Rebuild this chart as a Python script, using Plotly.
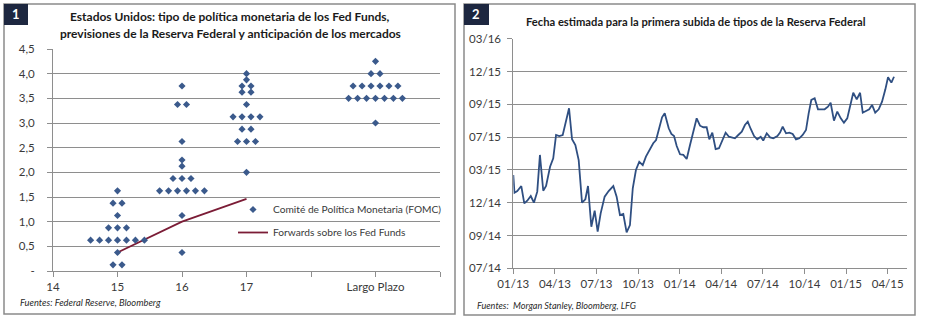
import plotly.graph_objects as go
from collections import Counter

W, H = 929, 321
FONT = "Lato"
NAVY = "#3b5a8c"
LINE_BLUE = "#2f4f82"
MAROON = "#7b1c36"
GRID = "#8e8e8e"
TXT = "#3a3a3a"

# ---------------- Panel 1: FOMC projections vs. market forwards ----------------
fomc_2015 = [1.625, 1.375, 1.375, 1.125, 0.875, 0.875, 0.875,
             0.625, 0.625, 0.625, 0.625, 0.625, 0.625, 0.625,
             0.375, 0.125, 0.125]
fomc_2016 = [3.75, 3.375, 3.375, 2.625, 2.25, 2.125, 1.875, 1.875, 1.875,
             1.625, 1.625, 1.625, 1.625, 1.625, 1.625, 1.125, 0.375]
fomc_2017 = [4.0, 3.875, 3.75, 3.75, 3.625, 3.625, 3.375,
             3.125, 3.125, 3.125, 3.125, 2.875, 2.875,
             2.625, 2.625, 2.625, 2.0]
fomc_long = [4.25, 4.0, 4.0, 3.75, 3.75, 3.75, 3.75, 3.75, 3.75,
             3.5, 3.5, 3.5, 3.5, 3.5, 3.5, 3.5, 3.0]
fomc_positions = [15, 16, 17, 19]

fwd_x = [15, 16, 17]
fwd_y = [0.375, 1.0, 1.46]

x1_tickvals = [14, 15, 16, 17, 18, 19, 20]
x1_ticktext = ["14", "15", "16", "17", "", "Largo Plazo", ""]
y1_tickvals = [0, 0.5, 1.0, 1.5, 2.0, 2.5, 3.0, 3.5, 4.0, 4.5]
y1_ticktext = ["-", "0,5", "1,0", "1,5", "2,0", "2,5", "3,0", "3,5", "4,0", "4,5"]

# ---------------- Panel 2: estimated date of first Fed hike ----------------
# x: observation date (decimal year), y: implied hike date (decimal year)
obs_date = [
    2013.000, 2013.007, 2013.024, 2013.048, 2013.066, 2013.084, 2013.105, 2013.124,
    2013.144, 2013.160, 2013.180, 2013.197, 2013.221, 2013.240, 2013.257, 2013.276,
    2013.297, 2013.315, 2013.335, 2013.353, 2013.373, 2013.393, 2013.413, 2013.433,
    2013.449, 2013.469, 2013.489, 2013.507, 2013.525, 2013.549, 2013.573, 2013.601,
    2013.621, 2013.641, 2013.661, 2013.681, 2013.701, 2013.718, 2013.737, 2013.757,
    2013.778, 2013.797, 2013.821, 2013.841, 2013.858, 2013.877, 2013.894, 2013.910,
    2013.934, 2013.950, 2013.966, 2013.982, 2014.002, 2014.022, 2014.042, 2014.062,
    2014.082, 2014.102, 2014.122, 2014.142, 2014.162, 2014.178, 2014.196, 2014.216,
    2014.236, 2014.256, 2014.276, 2014.296, 2014.316, 2014.332, 2014.352, 2014.373,
    2014.392, 2014.409, 2014.427, 2014.447, 2014.466, 2014.487, 2014.502, 2014.523,
    2014.543, 2014.563, 2014.587, 2014.603, 2014.619, 2014.639, 2014.659, 2014.679,
    2014.699, 2014.719, 2014.739, 2014.759, 2014.775, 2014.791, 2014.811, 2014.831,
    2014.851, 2014.871, 2014.891, 2014.907, 2014.927, 2014.947, 2014.968, 2014.987,
    2015.007, 2015.028, 2015.043, 2015.064, 2015.084, 2015.100, 2015.120, 2015.139,
    2015.156, 2015.175, 2015.196, 2015.216, 2015.236, 2015.252, 2015.272, 2015.288,
]
hike_date = [
    2015.211, 2015.076, 2015.089, 2015.127, 2014.995, 2015.015, 2015.051, 2015.000,
    2015.084, 2015.364, 2015.091, 2015.127, 2015.274, 2015.338, 2015.516, 2015.508,
    2015.516, 2015.617, 2015.720, 2015.483, 2015.440, 2015.325, 2015.000, 2015.026,
    2015.127, 2014.817, 2014.939, 2014.779, 2014.919, 2015.046, 2015.089, 2015.127,
    2015.046, 2014.906, 2014.914, 2014.774, 2014.830, 2015.110, 2015.249, 2015.312,
    2015.287, 2015.351, 2015.407, 2015.453, 2015.478, 2015.579, 2015.651, 2015.681,
    2015.567, 2015.524, 2015.508, 2015.432, 2015.369, 2015.364, 2015.333, 2015.440,
    2015.541, 2015.643, 2015.587, 2015.575, 2015.575, 2015.483, 2015.534, 2015.409,
    2015.415, 2015.473, 2015.534, 2015.503, 2015.498, 2015.491, 2015.516, 2015.541,
    2015.592, 2015.617, 2015.562, 2015.508, 2015.483, 2015.503, 2015.473, 2015.529,
    2015.498, 2015.491, 2015.508, 2015.534, 2015.579, 2015.529, 2015.534, 2015.524,
    2015.483, 2015.491, 2015.516, 2015.554, 2015.681, 2015.783, 2015.796, 2015.712,
    2015.712, 2015.712, 2015.732, 2015.762, 2015.625, 2015.694, 2015.643, 2015.610,
    2015.643, 2015.745, 2015.838, 2015.788, 2015.838, 2015.686, 2015.701, 2015.712,
    2015.745, 2015.686, 2015.712, 2015.770, 2015.864, 2015.956, 2015.915, 2015.960,
]

x2_tickvals = [2013 + 0.25 * k for k in range(10)]
x2_ticktext = ["01/13", "04/13", "07/13", "10/13", "01/14",
               "04/14", "07/14", "10/14", "01/15", "04/15"]
y2_tickvals = [2014.5 + 0.25 * k for k in range(8)]
y2_ticktext = ["07/14", "09/14", "12/14", "03/15", "07/15", "09/15", "12/15", "03/16"]


def px(x):
    return x / W


def py(y):
    return 1 - y / H


def beeswarm(center, rates, step=0.139):
    xs, ys = [], []
    for rate, n in Counter(rates).items():
        for i in range(n):
            xs.append(center + (i - (n - 1) / 2) * step)
            ys.append(rate)
    return xs, ys


dot_x, dot_y = [], []
for pos, rates in zip(fomc_positions, [fomc_2015, fomc_2016, fomc_2017, fomc_long]):
    xs, ys = beeswarm(pos, rates)
    dot_x += xs
    dot_y += ys

fig = go.Figure()

fig.add_trace(go.Scatter(
    x=fwd_x, y=fwd_y, mode="lines", name="Forwards sobre los Fed Funds",
    line=dict(color=MAROON, width=1.8), xaxis="x", yaxis="y",
    legendrank=2, legendgroup="b",
))
fig.add_trace(go.Scatter(
    x=dot_x, y=dot_y, mode="markers", name="Comité de Política Monetaria (FOMC)",
    marker=dict(symbol="diamond", size=5.5, color=NAVY), xaxis="x", yaxis="y",
    legendrank=1, legendgroup="a",
))
fig.add_trace(go.Scatter(
    x=obs_date, y=hike_date, mode="lines", showlegend=False,
    line=dict(color=LINE_BLUE, width=1.8), xaxis="x2", yaxis="y2",
))

axis_common = dict(
    showline=True, linecolor=GRID, linewidth=1, ticks="outside", ticklen=5,
    tickcolor=GRID, zeroline=False, automargin=False,
    tickfont=dict(family=FONT, size=11.5, color=TXT),
)

fig.update_layout(
    width=W, height=H,
    margin=dict(l=0, r=0, t=0, b=0, autoexpand=False),
    paper_bgcolor="white", plot_bgcolor="white",
    font=dict(family=FONT, color=TXT),
    xaxis=dict(domain=[px(53), px(440)], range=[14, 20], tickvals=x1_tickvals,
               ticktext=x1_ticktext, showgrid=False, anchor="y", **axis_common),
    yaxis=dict(domain=[py(271), py(49)], range=[0, 4.5], tickvals=y1_tickvals,
               ticktext=y1_ticktext, showgrid=True, gridcolor=GRID, gridwidth=1,
               anchor="x", ticklabelstandoff=10, **axis_common),
    xaxis2=dict(domain=[px(513.3), px(907)], range=[2013, 2015.366], tickvals=x2_tickvals,
                ticktext=x2_ticktext, showgrid=False, anchor="y2", **axis_common),
    yaxis2=dict(domain=[py(268.3), py(38.7)], range=[2014.5, 2016.25], tickvals=y2_tickvals,
                ticktext=y2_ticktext, showgrid=True, gridcolor=GRID, gridwidth=1,
                anchor="x2", ticklabelstandoff=4, **axis_common),
    showlegend=True,
    legend=dict(x=px(233), y=py(195), xanchor="left", yanchor="top",
                bgcolor="rgba(0,0,0,0)", font=dict(family=FONT, size=10.2, color=TXT),
                tracegroupgap=4, itemwidth=30),
)

# Panel frames and numbered badges
for x0, x1, y0, y1 in [(4, 455, 4, 314), (464, 915, 4, 315)]:
    fig.add_shape(type="rect", xref="paper", yref="paper",
                  x0=px(x0), x1=px(x1), y0=py(y1), y1=py(y0),
                  line=dict(color="#8a8a8a", width=1.5), fillcolor="rgba(0,0,0,0)")
for x0, x1, label in [(4, 28, "1"), (464, 489, "2")]:
    fig.add_shape(type="rect", xref="paper", yref="paper",
                  x0=px(x0), x1=px(x1), y0=py(25), y1=py(4),
                  line=dict(width=0), fillcolor="#1d2740")
    fig.add_annotation(x=px((x0 + x1) / 2), y=py(14.5), xref="paper", yref="paper",
                       text=f"<b>{label}</b>", showarrow=False,
                       xanchor="center", yanchor="middle",
                       font=dict(family=FONT, size=13, color="white"))

titles = [
    (230, 16.7, 12, "Estados Unidos: tipo de política monetaria de los Fed Funds,"),
    (230, 33.3, 12, "previsiones de la Reserva Federal y anticipación de los mercados"),
    (696, 21.7, 11.2, "Fecha estimada para la primera subida de tipos de la Reserva Federal"),
]
for x, y, size, t in titles:
    fig.add_annotation(x=px(x), y=py(y), xref="paper", yref="paper", text=f"<b>{t}</b>",
                       showarrow=False, xanchor="center", yanchor="middle",
                       font=dict(family=FONT, size=size, color="#1a1a1a"))

sources = [
    (18, 302, 9.3, "Fuentes: Federal Reserve, Bloomberg"),
    (475, 305, 9.1, "Fuentes:  Morgan Stanley, Bloomberg, LFG"),
]
for x, y, size, t in sources:
    fig.add_annotation(x=px(x), y=py(y), xref="paper", yref="paper", text=f"<i>{t}</i>",
                       showarrow=False, xanchor="left", yanchor="middle",
                       font=dict(family=FONT, size=size, color="#2a2a2a"))

fig.write_html("out.html")
